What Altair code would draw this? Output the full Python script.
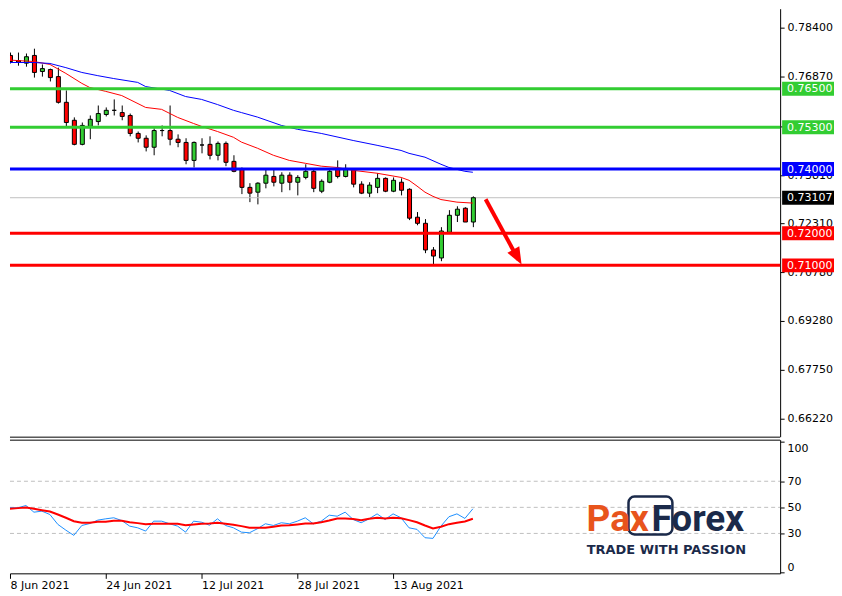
import altair as alt
import pandas as pd

# ---------------- data ----------------
IDX = list(range(-1, 59))
OPEN = [0.7732,
        0.7754, 0.7738, 0.7730, 0.7754, 0.7704, 0.7710, 0.7688, 0.7608, 0.7552, 0.7477,
        0.7533, 0.7548, 0.7570, 0.7583, 0.7576, 0.7567, 0.7511, 0.7496, 0.7468, 0.7520,
        0.7520, 0.7493, 0.7483, 0.7427, 0.7475, 0.7477, 0.7443, 0.7480, 0.7424, 0.7399,
        0.7343, 0.7328, 0.7356, 0.7377, 0.7356, 0.7381, 0.7359, 0.7374, 0.7393, 0.7331,
        0.7359, 0.7399, 0.7377, 0.7399, 0.7353, 0.7325, 0.7343, 0.7371, 0.7331, 0.7359,
        0.7337, 0.7250, 0.7231, 0.7148, 0.7123, 0.7203, 0.7256, 0.7278, 0.7235]
HIGH = [0.7760,
        0.7763, 0.7763, 0.7760, 0.7775, 0.7726, 0.7713, 0.7716, 0.7645, 0.7561, 0.7545,
        0.7567, 0.7598, 0.7592, 0.7617, 0.7598, 0.7573, 0.7517, 0.7505, 0.7527, 0.7536,
        0.7598, 0.7508, 0.7496, 0.7486, 0.7496, 0.7502, 0.7486, 0.7486, 0.7443, 0.7405,
        0.7356, 0.7359, 0.7399, 0.7399, 0.7390, 0.7390, 0.7381, 0.7415, 0.7402, 0.7368,
        0.7402, 0.7427, 0.7415, 0.7402, 0.7362, 0.7359, 0.7387, 0.7374, 0.7374, 0.7371,
        0.7340, 0.7266, 0.7244, 0.7157, 0.7219, 0.7272, 0.7284, 0.7281, 0.7315]
LOW = [0.7726,
       0.7729, 0.7722, 0.7719, 0.7685, 0.7688, 0.7673, 0.7604, 0.7530, 0.7474, 0.7474,
       0.7493, 0.7536, 0.7564, 0.7567, 0.7552, 0.7502, 0.7483, 0.7455, 0.7443, 0.7502,
       0.7474, 0.7468, 0.7415, 0.7405, 0.7449, 0.7430, 0.7427, 0.7409, 0.7390, 0.7322,
       0.7297, 0.7290, 0.7340, 0.7346, 0.7328, 0.7334, 0.7318, 0.7368, 0.7328, 0.7325,
       0.7356, 0.7371, 0.7374, 0.7343, 0.7322, 0.7312, 0.7325, 0.7328, 0.7328, 0.7318,
       0.7241, 0.7225, 0.7138, 0.7104, 0.7113, 0.7203, 0.7235, 0.7235, 0.7219]
CLOSE = [0.7754,
         0.7735, 0.7733, 0.7750, 0.7701, 0.7713, 0.7685, 0.7608, 0.7545, 0.7477, 0.7536,
         0.7555, 0.7573, 0.7583, 0.7583, 0.7564, 0.7511, 0.7496, 0.7468, 0.7520, 0.7520,
         0.7493, 0.7483, 0.7427, 0.7483, 0.7475, 0.7443, 0.7480, 0.7421, 0.7393, 0.7343,
         0.7325, 0.7356, 0.7381, 0.7359, 0.7381, 0.7359, 0.7374, 0.7393, 0.7340, 0.7362,
         0.7393, 0.7377, 0.7402, 0.7353, 0.7325, 0.7350, 0.7371, 0.7331, 0.7365, 0.7334,
         0.7247, 0.7231, 0.7148, 0.7129, 0.7207, 0.7256, 0.7275, 0.7235, 0.73107]

RED_MA_IDX = [-1, 3, 5, 7, 9, 10, 12, 14, 17, 19, 21, 23, 24, 26, 28, 29, 31, 33, 35, 37,
              39, 41, 43, 46, 49, 50, 51, 52, 53, 54, 56, 58]
RED_MA_VAL = [0.7741, 0.7735, 0.7726, 0.7698, 0.7667, 0.7654, 0.7642, 0.7629, 0.7592, 0.7586,
              0.7561, 0.7542, 0.7533, 0.7517, 0.7499, 0.7484, 0.7465, 0.7443, 0.7427, 0.7418,
              0.7409, 0.7405, 0.7396, 0.7387, 0.7374, 0.7365, 0.7347, 0.7328, 0.7315, 0.7305,
              0.7297, 0.7294]
BLUE_MA_IDX = [-1, 3, 5, 7, 9, 11, 13, 16, 17, 20, 22, 24, 26, 28, 29, 31, 34, 36, 39, 43,
               46, 49, 50, 52, 54, 55, 57, 58]
BLUE_MA_VAL = [0.7732, 0.7732, 0.7729, 0.7716, 0.7701, 0.7691, 0.7682, 0.7670, 0.7657, 0.7645,
               0.7626, 0.7617, 0.7601, 0.7583, 0.7576, 0.7562, 0.7536, 0.7524, 0.7511, 0.7489,
               0.7474, 0.7458, 0.7449, 0.7437, 0.7415, 0.7405, 0.7393, 0.7390]

STOCH_K = [52.2,
           49.7, 49.7, 51.4, 46.3, 47.1, 44.5, 36.9, 32.5, 28.5, 36.1,
           37.6, 40.2, 41.2, 42.0, 39.9, 35.6, 34.3, 31.8, 39.4, 39.4,
           37.4, 35.6, 31.0, 39.4, 38.6, 36.3, 41.2, 36.1, 34.3, 31.0,
           30.5, 33.6, 37.4, 36.1, 38.2, 37.4, 39.4, 42.0, 37.4, 39.4,
           44.0, 43.2, 46.3, 40.7, 38.2, 41.2, 45.0, 40.7, 45.0, 42.0,
           34.3, 33.1, 26.7, 26.2, 35.6, 42.8, 45.0, 41.5, 48.9]
STOCH_D = [48.9,
           48.9, 49.4, 49.9, 48.9, 47.8, 46.8, 44.5, 42.0, 39.4, 38.2,
           38.2, 38.9, 38.9, 39.7, 39.7, 38.6, 37.9, 37.1, 37.4, 37.4,
           37.4, 37.4, 36.3, 36.9, 37.4, 37.6, 38.2, 37.4, 36.6, 35.6,
           34.3, 34.3, 34.3, 35.1, 36.1, 36.3, 36.9, 37.6, 37.6, 38.6,
           39.9, 41.5, 41.5, 41.0, 40.2, 41.2, 42.0, 41.5, 42.0, 41.7,
           40.2, 38.6, 36.1, 33.8, 35.1, 37.1, 38.2, 39.2, 41.2]

DATE_TICK_IDX = [0, 12, 24, 36, 48]
DATE_TICK_LABELS = ["8 Jun 2021", "24 Jun 2021", "12 Jul 2021", "28 Jul 2021", "13 Aug 2021"]
PRICE_TICKS = [0.78400, 0.76870, 0.75340, 0.73810, 0.72310, 0.70780, 0.69280, 0.67750, 0.66220]
LEVELS = [0.7650, 0.7530, 0.7400, 0.7200, 0.7100]
LEVEL_COLORS = ["#32CD32", "#32CD32", "#0000FF", "#FF0000", "#FF0000"]
LAST_PRICE = 0.73107
TAG_VALUES = [0.7650, 0.7530, 0.7400, 0.73107, 0.7200, 0.7100]
TAG_COLORS = ["#32CD32", "#32CD32", "#0000FF", "#000000", "#FF0000", "#FF0000"]
OSC_LEVELS = [30, 50, 70]
OSC_TICKS = [0, 30, 50, 70, 100]
ARROW_IDX = [59.6, 63.7]
ARROW_PRICE = [0.7306, 0.7118]
ARROW_TIP_IDX = [64.1]
ARROW_TIP_PRICE = [0.7103]

# ---------------- styling ----------------
GREEN = "#32CD32"
RED = "#FF0000"
BLUE = "#0000FF"
NAVY = "#1B2A4A"
ORANGE = "#E8541C"
FONT = "DejaVu Sans"
W = 772
H_MAIN = 429
H_OSC = 134

x_scale = alt.Scale(domain=[0, 96.5], nice=False, zero=False, padding=0)
y_scale = alt.Scale(domain=[0.65663, 0.78996], nice=False, zero=False, padding=0)
o_scale = alt.Scale(domain=[-0.6, 101.9], nice=False, zero=False, padding=0)

candles = pd.DataFrame({"idx": IDX, "open": OPEN, "high": HIGH, "low": LOW, "close": CLOSE})
candles["dir"] = ["up" if c >= o else "down" for o, c in zip(OPEN, CLOSE)]
red_ma = pd.DataFrame({"idx": RED_MA_IDX, "val": RED_MA_VAL})
blue_ma = pd.DataFrame({"idx": BLUE_MA_IDX, "val": BLUE_MA_VAL})
levels = pd.DataFrame({"price": LEVELS, "color": LEVEL_COLORS})
tags = pd.DataFrame({"price": TAG_VALUES, "color": TAG_COLORS,
                     "label": [f"{v:.5f}" for v in TAG_VALUES]})
last_df = pd.DataFrame({"price": [LAST_PRICE]})
arrow_df = pd.DataFrame({"idx": ARROW_IDX, "price": ARROW_PRICE})
tip_df = pd.DataFrame({"idx": ARROW_TIP_IDX, "price": ARROW_TIP_PRICE})
osc = pd.DataFrame({"idx": IDX, "k": STOCH_K, "d": STOCH_D})
osc_lv = pd.DataFrame({"v": OSC_LEVELS})
one = pd.DataFrame({"a": [0]})

YA = alt.Axis(orient="right", values=PRICE_TICKS, format=".5f", tickSize=4,
              labelPadding=3, grid=False, title=None, labelOverlap=False,
              labelFont=FONT, labelFontSize=11, labelColor="black",
              domainColor="black", tickColor="black")


def py(field):
    return alt.Y(field, scale=y_scale, axis=YA)


def px(field):
    return alt.X(field, scale=x_scale, axis=None)


wick = alt.Chart(candles).mark_rule(color="black", strokeWidth=1, clip=True, xOffset=0.5).encode(
    x=px("idx:Q"), y=py("low:Q"), y2="high:Q")
body = alt.Chart(candles).mark_bar(size=4, stroke="black", strokeWidth=1, clip=True, xOffset=0.5).encode(
    x=px("idx:Q"), y=py("open:Q"), y2="close:Q",
    color=alt.Color("dir:N", scale=alt.Scale(domain=["up", "down"], range=[GREEN, RED]), legend=None))
last_line = alt.Chart(last_df).mark_rule(color="#C0C0C0", strokeWidth=1).encode(
    y=py("price:Q"), x=alt.value(0), x2=alt.value(W))
red_line = alt.Chart(red_ma).mark_line(color=RED, strokeWidth=1, clip=True).encode(
    x=px("idx:Q"), y=py("val:Q"))
blue_line = alt.Chart(blue_ma).mark_line(color=BLUE, strokeWidth=1, clip=True).encode(
    x=px("idx:Q"), y=py("val:Q"))
level_lines = alt.Chart(levels).mark_rule(strokeWidth=3).encode(
    y=py("price:Q"), x=alt.value(0), x2=alt.value(W), color=alt.Color("color:N", scale=None))
arrow_line = alt.Chart(arrow_df).mark_line(color=RED, strokeWidth=4, strokeCap="butt").encode(
    x=px("idx:Q"), y=py("price:Q"))
arrow_head = alt.Chart(tip_df).mark_point(shape="M0,0L-0.4,-1L0.4,-1Z", size=1156, angle=331,
                                          filled=True, fill=RED, opacity=1, strokeWidth=0).encode(
    x=px("idx:Q"), y=py("price:Q"))
tag_box = alt.Chart(tags).mark_point(shape="M-4,-1L4,-1L4,1L-4,1Z", size=196, filled=True,
                                     opacity=1, strokeWidth=0).encode(
    x=alt.value(802), y=py("price:Q"), fill=alt.Fill("color:N", scale=None))
tag_text = alt.Chart(tags).mark_text(align="left", baseline="middle", color="white", font=FONT,
                                     fontSize=11, dy=0.5).encode(
    x=alt.value(779), y=py("price:Q"), text="label:N")
main_bottom = alt.Chart(one).mark_rule(color="black", strokeWidth=1).encode(
    x=alt.value(0), x2=alt.value(W), y=alt.value(429.5))

main = alt.layer(wick, last_line, body, red_line, blue_line, level_lines, arrow_line, arrow_head,
                 tag_box, tag_text, main_bottom).properties(width=W, height=H_MAIN)

# ---------------- oscillator panel ----------------
label_expr = ""
for i, lab in zip(DATE_TICK_IDX, DATE_TICK_LABELS):
    label_expr += f"datum.value == {i} ? '{lab}' : "
label_expr += "''"

XO = alt.Axis(orient="bottom", values=DATE_TICK_IDX, labelExpr=label_expr, labelAlign="left",
              tickSize=5, labelPadding=1, grid=False, title=None, labelOverlap=False,
              labelFlush=False, labelBound=False, labelFont=FONT, labelFontSize=11,
              labelColor="black", domainColor="black", tickColor="black")
YO = alt.Axis(orient="right", values=OSC_TICKS, tickSize=4, labelPadding=3, grid=False,
              title=None, labelFont=FONT, labelFontSize=11,
              labelBaseline={"condition": [{"test": "datum.value == 100", "value": "top"},
                                           {"test": "datum.value == 0", "value": "bottom"}],
                             "value": "middle"},
              labelColor="black", domainColor="black", tickColor="black")

osc_top = alt.Chart(one).mark_rule(color="black", strokeWidth=1).encode(
    x=alt.value(0), x2=alt.value(W), y=alt.value(0.5))
osc_levels = alt.Chart(osc_lv).mark_rule(color="#C0C0C0", strokeWidth=1, strokeDash=[4, 3]).encode(
    y=alt.Y("v:Q", scale=o_scale, axis=YO), x=alt.value(0), x2=alt.value(W))
k_line = alt.Chart(osc).mark_line(color="#1E90FF", strokeWidth=1, clip=True).encode(
    x=alt.X("idx:Q", scale=x_scale, axis=XO),
    y=alt.Y("k:Q", scale=o_scale, axis=YO))
d_line = alt.Chart(osc).mark_line(color=RED, strokeWidth=2, clip=True).encode(
    x=alt.X("idx:Q", scale=x_scale, axis=XO),
    y=alt.Y("d:Q", scale=o_scale, axis=YO))

logo_box = alt.Chart(one).mark_rect(fillOpacity=0, stroke=NAVY, strokeWidth=2.5, cornerRadius=6).encode(
    x=alt.value(620), x2=alt.value(664), y=alt.value(57), y2=alt.value(95))
logo_pax = alt.Chart(one).mark_text(text="Pax", align="left", baseline="alphabetic", font="Roboto",
                                    fontWeight="bold", fontSize=37, color=ORANGE).encode(
    x=alt.value(578), y=alt.value(92))
logo_forex = alt.Chart(one).mark_text(text="Forex", align="left", baseline="alphabetic", font="Roboto",
                                      fontWeight="bold", fontSize=37, color=NAVY).encode(
    x=alt.value(643), y=alt.value(92))
logo_tag = alt.Chart(one).mark_text(text="TRADE WITH PASSION", align="center", baseline="middle",
                                    font=FONT, fontWeight="bold", fontSize=13, color=NAVY).encode(
    x=alt.value(658), y=alt.value(111))

lower = alt.layer(osc_top, osc_levels, k_line, d_line, logo_box, logo_pax, logo_forex,
                  logo_tag).properties(width=W, height=H_OSC)

chart = alt.vconcat(main, lower, spacing=2).properties(
    padding={"left": 0, "top": 0, "right": -4, "bottom": 0},
    background="white",
).configure_view(stroke=None)

chart.save("out.html", embed_options={"renderer": "svg", "actions": False})
